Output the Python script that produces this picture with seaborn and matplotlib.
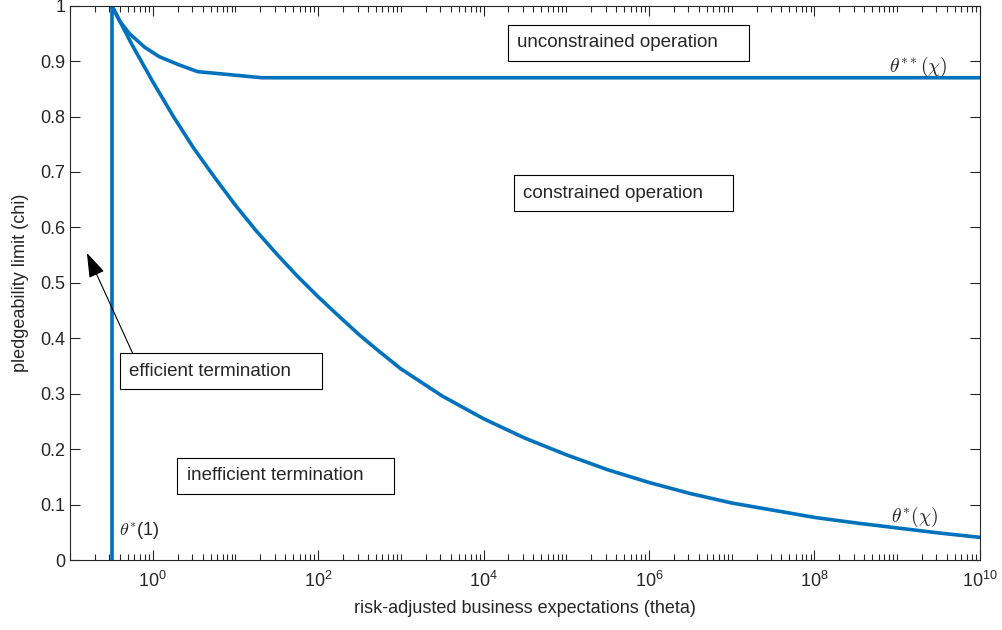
import numpy as np
import pandas as pd
import seaborn as sns
import matplotlib
matplotlib.use("Agg")
import matplotlib.pyplot as plt
from matplotlib.ticker import FixedLocator, LogLocator, NullFormatter

# --- data ---
theta_1 = 0.32  # theta*(1), the vertical boundary

# theta*(chi) curve
theta_star_x = [0.32, 0.56, 1.0, 1.78, 3.16, 5.62, 10, 17.8, 31.6, 56.2, 100, 178, 316,
                562, 1e3, 3.16e3, 1e4, 3.16e4, 1e5, 3.16e5, 1e6, 3.16e6, 1e7, 3.16e7,
                1e8, 3.16e8, 1e9, 3.16e9, 1e10]
theta_star_y = [1.0, 0.93, 0.863, 0.80, 0.742, 0.69, 0.64, 0.594, 0.552, 0.512, 0.475,
                0.44, 0.406, 0.375, 0.345, 0.296, 0.255, 0.22, 0.19, 0.163, 0.14, 0.12,
                0.103, 0.09, 0.077, 0.067, 0.058, 0.049, 0.041]

# theta**(chi) curve
theta_ss_x = [0.32, 0.4, 0.52, 0.8, 1.2, 2.1, 3.5, 21, 1e10]
theta_ss_y = [1.0, 0.972, 0.95, 0.925, 0.908, 0.893, 0.881, 0.870, 0.870]

x_major = [1e0, 1e2, 1e4, 1e6, 1e8, 1e10]
x_major_labels = [r"$\mathdefault{10^{0}}$", r"$\mathdefault{10^{2}}$", r"$\mathdefault{10^{4}}$",
                  r"$\mathdefault{10^{6}}$", r"$\mathdefault{10^{8}}$", r"$\mathdefault{10^{10}}$"]
y_ticks = [0, 0.1, 0.2, 0.3, 0.4, 0.5, 0.6, 0.7, 0.8, 0.9, 1]
y_tick_labels = ["0", "0.1", "0.2", "0.3", "0.4", "0.5", "0.6", "0.7", "0.8", "0.9", "1"]

sns.set_theme(style="ticks")
plt.rcParams["font.family"] = ["Liberation Sans", "DejaVu Sans"]
plt.rcParams["mathtext.fontset"] = "cm"

blue = "#0072BD"
dark = "#262626"

fig = plt.figure(figsize=(10.03, 6.30), dpi=100)
ax = fig.add_axes([0.0698, 0.111, 0.907, 0.880])

df_star = pd.DataFrame({"theta": theta_star_x, "chi": theta_star_y})
df_ss = pd.DataFrame({"theta": theta_ss_x, "chi": theta_ss_y})
df_v = pd.DataFrame({"theta": [theta_1, theta_1], "chi": [0, 1]})

for d in (df_v, df_star, df_ss):
    sns.lineplot(data=d, x="theta", y="chi", ax=ax, color=blue, linewidth=2.6,
                 estimator=None, sort=False)

ax.set_xscale("log")
ax.set_xlim(0.1, 1e10)
ax.set_ylim(0, 1)

ax.xaxis.set_major_locator(FixedLocator(x_major))
ax.set_xticklabels(x_major_labels)
ax.xaxis.set_minor_locator(LogLocator(base=10, subs=np.arange(1, 10), numticks=100))
ax.xaxis.set_minor_formatter(NullFormatter())
ax.set_yticks(y_ticks)
ax.set_yticklabels(y_tick_labels)

ax.tick_params(which="both", direction="in", top=True, right=True, colors=dark,
               labelsize=13, labelcolor=dark)
ax.tick_params(which="major", length=7, width=0.8)
ax.tick_params(which="minor", length=4, width=0.8)
for s in ax.spines.values():
    s.set_color(dark)
    s.set_linewidth(0.8)
ax.tick_params(axis="x", pad=8)

ax.set_xlabel("risk-adjusted business expectations (theta)", fontsize=13, color=dark, labelpad=6)
ax.set_ylabel("pledgeability limit (chi)", fontsize=13, color=dark, labelpad=8)

# MATLAB-style text boxes leave extra room on the right
box = dict(boxstyle="square,pad=0.5", fc="white", ec="black", lw=0.8)
ax.text(10**4.41, 0.933, "unconstrained operation    ", ha="left", va="center", fontsize=13.5, bbox=box)
ax.text(10**4.477, 0.662, "constrained operation    ", ha="left", va="center", fontsize=13.5, bbox=box)
ax.text(10**-0.282, 0.341, "efficient termination    ", ha="left", va="center", fontsize=13.5, bbox=box)
ax.text(10**0.412, 0.152, "inefficient termination    ", ha="left", va="center", fontsize=13.5, bbox=box)

ax.annotate("", xy=(0.16, 0.554), xytext=(0.568, 0.374),
            arrowprops=dict(arrowstyle="-|>,head_length=0.9,head_width=0.3", color="black",
                            lw=0.8, mutation_scale=17, shrinkA=0, shrinkB=0))

ax.text(10**8.9, 0.89, r"$\theta^{**}(\chi)$", ha="left", va="center", fontsize=14)
ax.text(10**8.93, 0.077, r"$\theta^{*}(\chi)$", ha="left", va="center", fontsize=14)
ax.text(0.39, 0.054, r"$\theta^{*}$(1)", ha="left", va="center", fontsize=13)

fig.savefig("out.png", dpi=100)
